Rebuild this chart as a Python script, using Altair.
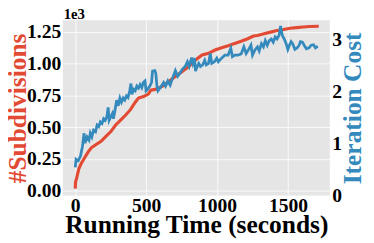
import altair as alt
import pandas as pd

# Running time (seconds) and #Subdivisions (red, left axis)
red_t = [0, 2, 9, 25, 43, 67, 90, 113, 147, 182, 216, 251, 285, 320, 354, 389, 423, 446,
         481, 515, 533, 572, 619, 664, 710, 757, 802, 848, 894, 940, 986, 1032, 1078,
         1124, 1170, 1216, 1257, 1285, 1331, 1377, 1423, 1469, 1515, 1561, 1607, 1653, 1717]
red_v = [15, 67, 93, 170, 216, 260, 303, 337, 363, 388, 427, 465, 517, 556, 594, 638, 697, 730,
         741, 761, 792, 800, 826, 864, 903, 941, 980, 1031, 1070, 1083, 1109, 1127, 1142,
         1160, 1178, 1198, 1219, 1224, 1237, 1250, 1263, 1271, 1281, 1286, 1291, 1294, 1296]

# Running time (seconds) and Iteration Cost (blue, right axis)
blue_t = [0, 6, 21, 37, 51, 62, 69, 83, 97, 106, 117, 129, 143, 154, 166, 177, 189, 200, 211,
          223, 232, 239, 251, 262, 269, 280, 292, 303, 315, 326, 338, 349, 361, 372, 384, 393,
          400, 411, 423, 434, 446, 457, 469, 480, 492, 499, 510, 526, 538, 545, 561, 568, 576,
          583, 607, 623, 637, 653, 669, 687, 706, 722, 738, 756, 775, 791, 803, 821, 830, 841,
          848, 860, 871, 883, 899, 913, 924, 940, 952, 963, 982, 998, 1009, 1032, 1055, 1078,
          1097, 1108, 1124, 1147, 1170, 1189, 1205, 1221, 1239, 1250, 1267, 1285, 1297, 1313,
          1327, 1340, 1354, 1368, 1382, 1396, 1410, 1423, 1437, 1448, 1460, 1474, 1487, 1499,
          1510, 1522, 1533, 1549, 1565, 1579, 1588, 1602, 1614, 1630, 1648, 1664, 1680, 1694, 1710]
blue_v = [0.54, 0.70, 0.67, 0.76, 0.95, 1.20, 1.01, 1.13, 1.07, 1.20, 1.13, 1.26, 1.23, 1.36,
          1.33, 1.42, 1.39, 1.48, 1.45, 1.52, 1.70, 1.45, 1.52, 1.58, 1.48, 1.64, 1.84, 1.73,
          1.88, 1.80, 1.88, 1.84, 1.92, 1.89, 2.02, 2.16, 1.95, 2.05, 2.02, 2.11, 2.07, 2.14,
          2.08, 2.18, 2.21, 2.02, 2.05, 2.11, 2.18, 2.40, 2.41, 2.36, 2.11, 2.02, 2.11, 2.18,
          2.11, 2.21, 2.13, 2.27, 2.41, 2.30, 2.36, 2.44, 2.49, 2.58, 2.49, 2.66, 2.55, 2.65,
          2.40, 2.49, 2.55, 2.49, 2.52, 2.61, 2.52, 2.55, 2.74, 2.55, 2.58, 2.65, 2.58, 2.65,
          2.71, 2.71, 2.84, 2.68, 2.71, 2.71, 2.73, 2.87, 2.74, 2.81, 2.90, 2.71, 2.81, 2.87,
          2.79, 2.93, 2.87, 2.99, 2.90, 2.99, 3.02, 2.96, 3.06, 3.02, 3.09, 3.27, 3.09, 3.02,
          2.93, 2.82, 2.90, 2.97, 2.93, 2.82, 2.85, 2.90, 2.97, 2.96, 2.90, 2.83, 2.85, 2.90,
          2.91, 2.85, 2.88]

x_ticks = [0, 500, 1000, 1500]
left_ticks = [0, 250, 500, 750, 1000, 1250]
right_ticks = [0, 1, 2, 3]
offset_label = ["1e3"]

FONT = "Liberation Serif"
RED = "#E24A33"
BLUE = "#348ABD"

red_df = pd.DataFrame({"t": red_t, "v": red_v})
blue_df = pd.DataFrame({"t": blue_t, "c": blue_v})
off_df = pd.DataFrame({"txt": offset_label})

x_enc = alt.X(
    "t:Q",
    scale=alt.Scale(domain=[-88, 1795], nice=False, zero=False),
    axis=alt.Axis(
        values=x_ticks, format="d", title="Running Time (seconds)",
        labelBaseline="alphabetic", labelPadding=16,
        titleBaseline="alphabetic", titleY=38, grid=True,
    ),
)

red = alt.Chart(red_df).mark_line(color=RED, strokeWidth=3.2).encode(
    x=x_enc,
    y=alt.Y(
        "v:Q",
        scale=alt.Scale(domain=[-39, 1343], nice=False, zero=False),
        axis=alt.Axis(
            orient="left", values=left_ticks,
            labelExpr="format(datum.value / 1000, '.2f')",
            title="#Subdivisions", titleColor=RED, titleAngle=270,
            titleBaseline="alphabetic", titleX=-38, labelPadding=2, grid=True,
        ),
    ),
)

blue = alt.Chart(blue_df).mark_line(color=BLUE, strokeWidth=2.8).encode(
    x=x_enc,
    y=alt.Y(
        "c:Q",
        scale=alt.Scale(domain=[0, 3.38], nice=False, zero=False),
        axis=alt.Axis(
            orient="right", values=right_ticks, format="d",
            title="Iteration Cost", titleColor=BLUE, titleAngle=270,
            titleBaseline="alphabetic", titleX=31, labelPadding=2, grid=False,
        ),
    ),
)

off = alt.Chart(off_df).mark_text(
    font=FONT, fontSize=15, fontWeight="bold", color="black",
    align="left", baseline="alphabetic",
).encode(text="txt:N", x=alt.value(1), y=alt.value(-1))

chart = (
    alt.layer(red, blue, off)
    .resolve_scale(y="independent")
    .properties(
        width=273, height=179,
        autosize=alt.AutoSizeParams(type="none"),
        padding={"left": 56, "top": 10, "right": 37, "bottom": 46},
    )
    .configure_view(fill="#E5E5E5", stroke=None)
    .configure_axis(
        labelFont=FONT, labelFontSize=20, labelFontWeight="bold", labelColor="black",
        titleFont=FONT, titleFontSize=26, titleFontWeight="bold", titleColor="black",
        domain=False, ticks=False, tickSize=0,
        gridColor="white", gridWidth=1, gridOpacity=0.8,
    )
)

chart.save("out.html", embed_options={"renderer": "svg", "actions": False})
